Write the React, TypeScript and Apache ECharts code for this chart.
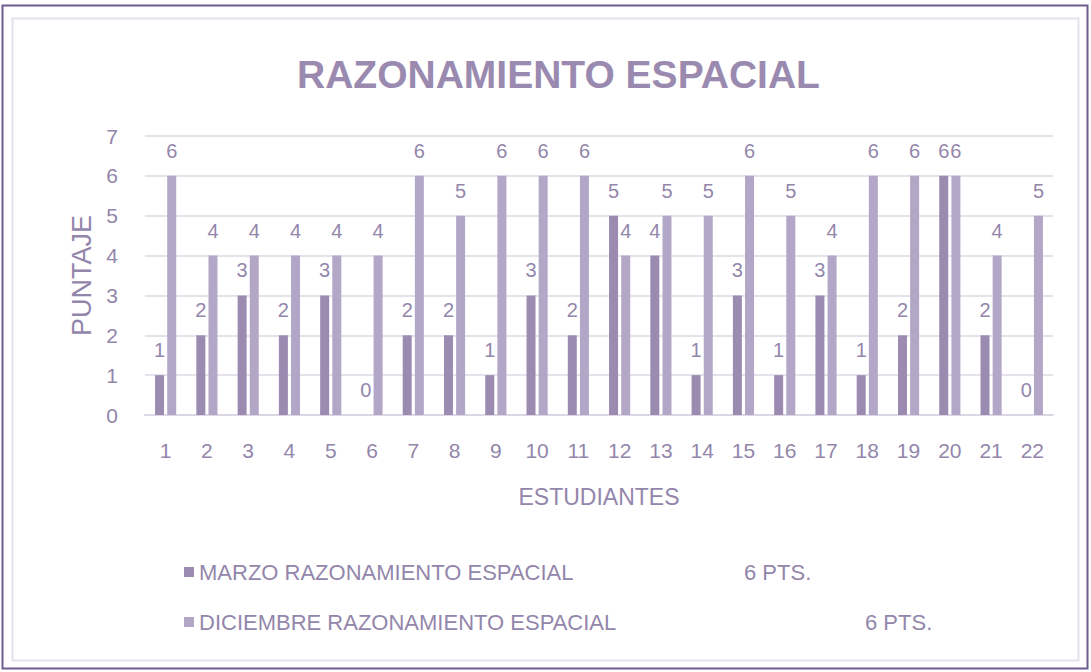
import React, { useEffect, useRef } from "react";
import * as echarts from "echarts";

const categories = ["1","2","3","4","5","6","7","8","9","10","11","12","13","14","15","16","17","18","19","20","21","22"];
const marzo = [1,2,3,2,3,0,2,2,1,3,2,5,4,1,3,1,3,1,2,6,2,0];
const diciembre = [6,4,4,4,4,4,6,5,6,6,6,4,5,5,6,5,4,6,6,6,4,5];
const yTicks = [0,1,2,3,4,5,6,7];
const seriesNames = ["MARZO RAZONAMIENTO ESPACIAL", "DICIEMBRE RAZONAMIENTO ESPACIAL"];
const seriesPts = ["6 PTS.", "6 PTS."];

const FONT = "'Liberation Sans', sans-serif";
const TXT = "#9386ab";

export default function App() {
  const ref = useRef<HTMLDivElement>(null);
  useEffect(() => {
    const chart = echarts.init(ref.current!, null, { renderer: "svg" });
    const labelStyle = {
      show: true,
      position: "top" as const,
      color: TXT,
      fontSize: 20,
      fontFamily: FONT,
      distance: 15,
    };
    chart.setOption({
      animation: false,
      backgroundColor: "#ffffff",
      textStyle: { fontFamily: FONT },
      title: {
        text: "RAZONAMIENTO ESPACIAL",
        left: 292,
        top: 50,
        textStyle: { color: "#9a8ab0", fontSize: 39, fontWeight: "bold", fontFamily: FONT },
      },
      graphic: [
        { type: "rect", shape: { x: 2.5, y: 5.5, width: 1085, height: 663 }, style: { fill: "none", stroke: "#6d5d8e", lineWidth: 2 }, z: -10 },
        { type: "rect", shape: { x: 12.5, y: 18.5, width: 1066, height: 642 }, style: { fill: "none", stroke: "#e4e2ea", lineWidth: 2 }, z: -9 },
      ],
      legend: [
        {
          data: [seriesNames[0]],
          left: 179,
          top: 556,
          orient: "horizontal",
          itemWidth: 10,
          itemHeight: 10,
          icon: "rect",
          formatter: () => `{a|${seriesNames[0]}}{b|${seriesPts[0]}}`,
          textStyle: {
            rich: {
              a: { color: TXT, fontSize: 22, fontFamily: FONT, width: 545 },
              b: { color: TXT, fontSize: 22, fontFamily: FONT },
            },
          },
        },
        {
          data: [seriesNames[1]],
          left: 179,
          top: 606,
          orient: "horizontal",
          itemWidth: 10,
          itemHeight: 10,
          icon: "rect",
          formatter: () => `{a|${seriesNames[1]}}{b|${seriesPts[1]}}`,
          textStyle: {
            rich: {
              a: { color: TXT, fontSize: 22, fontFamily: FONT, width: 666 },
              b: { color: TXT, fontSize: 22, fontFamily: FONT },
            },
          },
        },
      ],
      grid: { left: 145, right: 38, top: 136, bottom: 257, containLabel: false },
      xAxis: {
        type: "category",
        data: categories,
        name: "ESTUDIANTES",
        nameLocation: "middle",
        nameGap: 70,
        nameTextStyle: { color: TXT, fontSize: 23, fontFamily: FONT },
        axisLine: { lineStyle: { color: "#dcd7e4", width: 2 } },
        axisTick: { show: false },
        axisLabel: { color: TXT, fontSize: 21, fontFamily: FONT, margin: 25 },
      },
      yAxis: {
        type: "value",
        min: 0,
        max: 7,
        interval: 1,
        name: "PUNTAJE",
        nameLocation: "middle",
        nameGap: 50,
        nameTextStyle: { color: TXT, fontSize: 27, fontFamily: FONT },
        axisLine: { show: false },
        axisTick: { show: false },
        axisLabel: {
          color: TXT,
          fontSize: 21,
          fontFamily: FONT,
          margin: 27,
          formatter: (v: number) => (yTicks.includes(v) ? String(v) : ""),
        },
        splitLine: { lineStyle: { color: "#e6e2ec", width: 2 } },
      },
      series: [
        {
          name: seriesNames[0],
          type: "bar",
          data: marzo,
          barWidth: 9,
          barGap: "35%",
          itemStyle: { color: "#9b8bb1" },
          label: { ...labelStyle },
        },
        {
          name: seriesNames[1],
          type: "bar",
          data: diciembre,
          barWidth: 9,
          itemStyle: { color: "#b3a7c7" },
          label: { ...labelStyle },
        },
      ],
    });
    return () => chart.dispose();
  }, []);
  return (
    <div
      ref={ref}
      style={{ position: "absolute", left: 0, top: 0, width: 1091, height: 672 }}
    />
  );
}
